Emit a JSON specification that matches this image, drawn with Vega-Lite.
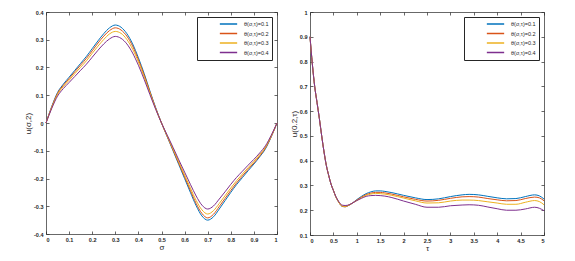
{
  "$schema": "https://vega.github.io/schema/vega-lite/v6.json",
  "background": "white",
  "padding": {"left": 24, "top": 10, "right": 5, "bottom": 2},
  "config": {
    "font": "Liberation Sans",
    "view": {"stroke": null},
    "concat": {"spacing": 11},
    "axis": {
      "grid": false,
      "domainColor": "#262626", "domainWidth": 0.7,
      "tickColor": "#262626", "tickWidth": 0.7, "tickSize": -3,
      "labelFontSize": 5.5, "labelFontWeight": "bold", "labelColor": "#262626", "labelPadding": 6,
      "labelExpr": "replace(datum.label, '\u2212', '-')",
      "titleFontSize": 8, "titleFontWeight": "normal", "titleColor": "#262626", "titlePadding": 1
    },
    "legend": {
      "title": null, "orient": "top-right", "offset": 5,
      "strokeColor": "#262626", "fillColor": "white", "padding": 3,
      "labelFontSize": 5.5, "labelColor": "#262626", "labelOffset": 6,
      "labelExpr": "datum.label + '\u2007\u2007\u2007\u2007'",
      "symbolType": "stroke", "symbolSize": 300, "symbolStrokeWidth": 1.5,
      "symbolOffset": 19, "rowPadding": 1.5, "clipHeight": 8
    }
  },
  "datasets": {
    "left": [
      {"s":"θ(σ,τ)=0.1","x":0,"y":0},{"s":"θ(σ,τ)=0.1","x":0.025,"y":0.06},{"s":"θ(σ,τ)=0.1","x":0.05,"y":0.11},{"s":"θ(σ,τ)=0.1","x":0.075,"y":0.14},{"s":"θ(σ,τ)=0.1","x":0.1,"y":0.165},{"s":"θ(σ,τ)=0.1","x":0.125,"y":0.19},{"s":"θ(σ,τ)=0.1","x":0.15,"y":0.215},{"s":"θ(σ,τ)=0.1","x":0.175,"y":0.24},{"s":"θ(σ,τ)=0.1","x":0.2,"y":0.268},{"s":"θ(σ,τ)=0.1","x":0.225,"y":0.296},{"s":"θ(σ,τ)=0.1","x":0.25,"y":0.322},{"s":"θ(σ,τ)=0.1","x":0.275,"y":0.343},{"s":"θ(σ,τ)=0.1","x":0.3,"y":0.353},{"s":"θ(σ,τ)=0.1","x":0.325,"y":0.345},{"s":"θ(σ,τ)=0.1","x":0.35,"y":0.322},{"s":"θ(σ,τ)=0.1","x":0.375,"y":0.285},{"s":"θ(σ,τ)=0.1","x":0.4,"y":0.235},{"s":"θ(σ,τ)=0.1","x":0.425,"y":0.178},{"s":"θ(σ,τ)=0.1","x":0.45,"y":0.115},{"s":"θ(σ,τ)=0.1","x":0.475,"y":0.055},{"s":"θ(σ,τ)=0.1","x":0.5,"y":0},{"s":"θ(σ,τ)=0.1","x":0.525,"y":-0.05},{"s":"θ(σ,τ)=0.1","x":0.55,"y":-0.1},{"s":"θ(σ,τ)=0.1","x":0.575,"y":-0.15},{"s":"θ(σ,τ)=0.1","x":0.6,"y":-0.2},{"s":"θ(σ,τ)=0.1","x":0.625,"y":-0.25},{"s":"θ(σ,τ)=0.1","x":0.65,"y":-0.298},{"s":"θ(σ,τ)=0.1","x":0.675,"y":-0.335},{"s":"θ(σ,τ)=0.1","x":0.7,"y":-0.35},{"s":"θ(σ,τ)=0.1","x":0.725,"y":-0.338},{"s":"θ(σ,τ)=0.1","x":0.75,"y":-0.31},{"s":"θ(σ,τ)=0.1","x":0.775,"y":-0.28},{"s":"θ(σ,τ)=0.1","x":0.8,"y":-0.25},{"s":"θ(σ,τ)=0.1","x":0.825,"y":-0.222},{"s":"θ(σ,τ)=0.1","x":0.85,"y":-0.197},{"s":"θ(σ,τ)=0.1","x":0.875,"y":-0.172},{"s":"θ(σ,τ)=0.1","x":0.9,"y":-0.148},{"s":"θ(σ,τ)=0.1","x":0.925,"y":-0.122},{"s":"θ(σ,τ)=0.1","x":0.95,"y":-0.093},{"s":"θ(σ,τ)=0.1","x":0.975,"y":-0.05},{"s":"θ(σ,τ)=0.1","x":1,"y":0},
      {"s":"θ(σ,τ)=0.2","x":0,"y":0},{"s":"θ(σ,τ)=0.2","x":0.025,"y":0.058},{"s":"θ(σ,τ)=0.2","x":0.05,"y":0.107},{"s":"θ(σ,τ)=0.2","x":0.075,"y":0.136},{"s":"θ(σ,τ)=0.2","x":0.1,"y":0.16},{"s":"θ(σ,τ)=0.2","x":0.125,"y":0.185},{"s":"θ(σ,τ)=0.2","x":0.15,"y":0.209},{"s":"θ(σ,τ)=0.2","x":0.175,"y":0.233},{"s":"θ(σ,τ)=0.2","x":0.2,"y":0.26},{"s":"θ(σ,τ)=0.2","x":0.225,"y":0.288},{"s":"θ(σ,τ)=0.2","x":0.25,"y":0.313},{"s":"θ(σ,τ)=0.2","x":0.275,"y":0.333},{"s":"θ(σ,τ)=0.2","x":0.3,"y":0.343},{"s":"θ(σ,τ)=0.2","x":0.325,"y":0.335},{"s":"θ(σ,τ)=0.2","x":0.35,"y":0.313},{"s":"θ(σ,τ)=0.2","x":0.375,"y":0.277},{"s":"θ(σ,τ)=0.2","x":0.4,"y":0.228},{"s":"θ(σ,τ)=0.2","x":0.425,"y":0.173},{"s":"θ(σ,τ)=0.2","x":0.45,"y":0.112},{"s":"θ(σ,τ)=0.2","x":0.475,"y":0.053},{"s":"θ(σ,τ)=0.2","x":0.5,"y":0},{"s":"θ(σ,τ)=0.2","x":0.525,"y":-0.049},{"s":"θ(σ,τ)=0.2","x":0.55,"y":-0.097},{"s":"θ(σ,τ)=0.2","x":0.575,"y":-0.146},{"s":"θ(σ,τ)=0.2","x":0.6,"y":-0.194},{"s":"θ(σ,τ)=0.2","x":0.625,"y":-0.243},{"s":"θ(σ,τ)=0.2","x":0.65,"y":-0.29},{"s":"θ(σ,τ)=0.2","x":0.675,"y":-0.326},{"s":"θ(σ,τ)=0.2","x":0.7,"y":-0.342},{"s":"θ(σ,τ)=0.2","x":0.725,"y":-0.329},{"s":"θ(σ,τ)=0.2","x":0.75,"y":-0.301},{"s":"θ(σ,τ)=0.2","x":0.775,"y":-0.272},{"s":"θ(σ,τ)=0.2","x":0.8,"y":-0.243},{"s":"θ(σ,τ)=0.2","x":0.825,"y":-0.216},{"s":"θ(σ,τ)=0.2","x":0.85,"y":-0.191},{"s":"θ(σ,τ)=0.2","x":0.875,"y":-0.167},{"s":"θ(σ,τ)=0.2","x":0.9,"y":-0.144},{"s":"θ(σ,τ)=0.2","x":0.925,"y":-0.119},{"s":"θ(σ,τ)=0.2","x":0.95,"y":-0.09},{"s":"θ(σ,τ)=0.2","x":0.975,"y":-0.049},{"s":"θ(σ,τ)=0.2","x":1,"y":0},
      {"s":"θ(σ,τ)=0.3","x":0,"y":0},{"s":"θ(σ,τ)=0.3","x":0.025,"y":0.056},{"s":"θ(σ,τ)=0.3","x":0.05,"y":0.103},{"s":"θ(σ,τ)=0.3","x":0.075,"y":0.131},{"s":"θ(σ,τ)=0.3","x":0.1,"y":0.154},{"s":"θ(σ,τ)=0.3","x":0.125,"y":0.178},{"s":"θ(σ,τ)=0.3","x":0.15,"y":0.201},{"s":"θ(σ,τ)=0.3","x":0.175,"y":0.224},{"s":"θ(σ,τ)=0.3","x":0.2,"y":0.251},{"s":"θ(σ,τ)=0.3","x":0.225,"y":0.277},{"s":"θ(σ,τ)=0.3","x":0.25,"y":0.301},{"s":"θ(σ,τ)=0.3","x":0.275,"y":0.321},{"s":"θ(σ,τ)=0.3","x":0.3,"y":0.33},{"s":"θ(σ,τ)=0.3","x":0.325,"y":0.323},{"s":"θ(σ,τ)=0.3","x":0.35,"y":0.301},{"s":"θ(σ,τ)=0.3","x":0.375,"y":0.266},{"s":"θ(σ,τ)=0.3","x":0.4,"y":0.22},{"s":"θ(σ,τ)=0.3","x":0.425,"y":0.166},{"s":"θ(σ,τ)=0.3","x":0.45,"y":0.108},{"s":"θ(σ,τ)=0.3","x":0.475,"y":0.051},{"s":"θ(σ,τ)=0.3","x":0.5,"y":0},{"s":"θ(σ,τ)=0.3","x":0.525,"y":-0.047},{"s":"θ(σ,τ)=0.3","x":0.55,"y":-0.094},{"s":"θ(σ,τ)=0.3","x":0.575,"y":-0.14},{"s":"θ(σ,τ)=0.3","x":0.6,"y":-0.187},{"s":"θ(σ,τ)=0.3","x":0.625,"y":-0.234},{"s":"θ(σ,τ)=0.3","x":0.65,"y":-0.279},{"s":"θ(σ,τ)=0.3","x":0.675,"y":-0.313},{"s":"θ(σ,τ)=0.3","x":0.7,"y":-0.328},{"s":"θ(σ,τ)=0.3","x":0.725,"y":-0.316},{"s":"θ(σ,τ)=0.3","x":0.75,"y":-0.29},{"s":"θ(σ,τ)=0.3","x":0.775,"y":-0.262},{"s":"θ(σ,τ)=0.3","x":0.8,"y":-0.234},{"s":"θ(σ,τ)=0.3","x":0.825,"y":-0.208},{"s":"θ(σ,τ)=0.3","x":0.85,"y":-0.184},{"s":"θ(σ,τ)=0.3","x":0.875,"y":-0.161},{"s":"θ(σ,τ)=0.3","x":0.9,"y":-0.138},{"s":"θ(σ,τ)=0.3","x":0.925,"y":-0.114},{"s":"θ(σ,τ)=0.3","x":0.95,"y":-0.087},{"s":"θ(σ,τ)=0.3","x":0.975,"y":-0.047},{"s":"θ(σ,τ)=0.3","x":1,"y":0},
      {"s":"θ(σ,τ)=0.4","x":0,"y":0},{"s":"θ(σ,τ)=0.4","x":0.025,"y":0.053},{"s":"θ(σ,τ)=0.4","x":0.05,"y":0.097},{"s":"θ(σ,τ)=0.4","x":0.075,"y":0.124},{"s":"θ(σ,τ)=0.4","x":0.1,"y":0.146},{"s":"θ(σ,τ)=0.4","x":0.125,"y":0.168},{"s":"θ(σ,τ)=0.4","x":0.15,"y":0.19},{"s":"θ(σ,τ)=0.4","x":0.175,"y":0.212},{"s":"θ(σ,τ)=0.4","x":0.2,"y":0.237},{"s":"θ(σ,τ)=0.4","x":0.225,"y":0.262},{"s":"θ(σ,τ)=0.4","x":0.25,"y":0.285},{"s":"θ(σ,τ)=0.4","x":0.275,"y":0.303},{"s":"θ(σ,τ)=0.4","x":0.3,"y":0.312},{"s":"θ(σ,τ)=0.4","x":0.325,"y":0.305},{"s":"θ(σ,τ)=0.4","x":0.35,"y":0.285},{"s":"θ(σ,τ)=0.4","x":0.375,"y":0.252},{"s":"θ(σ,τ)=0.4","x":0.4,"y":0.208},{"s":"θ(σ,τ)=0.4","x":0.425,"y":0.157},{"s":"θ(σ,τ)=0.4","x":0.45,"y":0.102},{"s":"θ(σ,τ)=0.4","x":0.475,"y":0.049},{"s":"θ(σ,τ)=0.4","x":0.5,"y":0},{"s":"θ(σ,τ)=0.4","x":0.525,"y":-0.044},{"s":"θ(σ,τ)=0.4","x":0.55,"y":-0.088},{"s":"θ(σ,τ)=0.4","x":0.575,"y":-0.133},{"s":"θ(σ,τ)=0.4","x":0.6,"y":-0.177},{"s":"θ(σ,τ)=0.4","x":0.625,"y":-0.221},{"s":"θ(σ,τ)=0.4","x":0.65,"y":-0.263},{"s":"θ(σ,τ)=0.4","x":0.675,"y":-0.296},{"s":"θ(σ,τ)=0.4","x":0.7,"y":-0.31},{"s":"θ(σ,τ)=0.4","x":0.725,"y":-0.299},{"s":"θ(σ,τ)=0.4","x":0.75,"y":-0.274},{"s":"θ(σ,τ)=0.4","x":0.775,"y":-0.248},{"s":"θ(σ,τ)=0.4","x":0.8,"y":-0.221},{"s":"θ(σ,τ)=0.4","x":0.825,"y":-0.196},{"s":"θ(σ,τ)=0.4","x":0.85,"y":-0.174},{"s":"θ(σ,τ)=0.4","x":0.875,"y":-0.152},{"s":"θ(σ,τ)=0.4","x":0.9,"y":-0.131},{"s":"θ(σ,τ)=0.4","x":0.925,"y":-0.108},{"s":"θ(σ,τ)=0.4","x":0.95,"y":-0.082},{"s":"θ(σ,τ)=0.4","x":0.975,"y":-0.044},{"s":"θ(σ,τ)=0.4","x":1,"y":0}
    ],
    "right": [
      {"s":"θ(σ,τ)=0.1","t":0,"u":0.9},{"s":"θ(σ,τ)=0.1","t":0.05,"u":0.79},{"s":"θ(σ,τ)=0.1","t":0.1,"u":0.7},{"s":"θ(σ,τ)=0.1","t":0.15,"u":0.635},{"s":"θ(σ,τ)=0.1","t":0.2,"u":0.57},{"s":"θ(σ,τ)=0.1","t":0.25,"u":0.5},{"s":"θ(σ,τ)=0.1","t":0.3,"u":0.435},{"s":"θ(σ,τ)=0.1","t":0.35,"u":0.38},{"s":"θ(σ,τ)=0.1","t":0.4,"u":0.34},{"s":"θ(σ,τ)=0.1","t":0.45,"u":0.305},{"s":"θ(σ,τ)=0.1","t":0.5,"u":0.28},{"s":"θ(σ,τ)=0.1","t":0.55,"u":0.255},{"s":"θ(σ,τ)=0.1","t":0.6,"u":0.237},{"s":"θ(σ,τ)=0.1","t":0.65,"u":0.222},{"s":"θ(σ,τ)=0.1","t":0.7,"u":0.215},{"s":"θ(σ,τ)=0.1","t":0.75,"u":0.214},{"s":"θ(σ,τ)=0.1","t":0.8,"u":0.217},{"s":"θ(σ,τ)=0.1","t":0.9,"u":0.228},{"s":"θ(σ,τ)=0.1","t":1,"u":0.243},{"s":"θ(σ,τ)=0.1","t":1.1,"u":0.256},{"s":"θ(σ,τ)=0.1","t":1.2,"u":0.267},{"s":"θ(σ,τ)=0.1","t":1.3,"u":0.274},{"s":"θ(σ,τ)=0.1","t":1.4,"u":0.278},{"s":"θ(σ,τ)=0.1","t":1.5,"u":0.278},{"s":"θ(σ,τ)=0.1","t":1.6,"u":0.276},{"s":"θ(σ,τ)=0.1","t":1.75,"u":0.271},{"s":"θ(σ,τ)=0.1","t":2,"u":0.26},{"s":"θ(σ,τ)=0.1","t":2.25,"u":0.25},{"s":"θ(σ,τ)=0.1","t":2.5,"u":0.243},{"s":"θ(σ,τ)=0.1","t":2.75,"u":0.246},{"s":"θ(σ,τ)=0.1","t":3,"u":0.255},{"s":"θ(σ,τ)=0.1","t":3.25,"u":0.262},{"s":"θ(σ,τ)=0.1","t":3.4,"u":0.264},{"s":"θ(σ,τ)=0.1","t":3.6,"u":0.262},{"s":"θ(σ,τ)=0.1","t":3.8,"u":0.256},{"s":"θ(σ,τ)=0.1","t":4,"u":0.25},{"s":"θ(σ,τ)=0.1","t":4.2,"u":0.246},{"s":"θ(σ,τ)=0.1","t":4.4,"u":0.247},{"s":"θ(σ,τ)=0.1","t":4.6,"u":0.255},{"s":"θ(σ,τ)=0.1","t":4.8,"u":0.262},{"s":"θ(σ,τ)=0.1","t":4.9,"u":0.258},{"s":"θ(σ,τ)=0.1","t":5,"u":0.245},
      {"s":"θ(σ,τ)=0.2","t":0,"u":0.9},{"s":"θ(σ,τ)=0.2","t":0.05,"u":0.79},{"s":"θ(σ,τ)=0.2","t":0.1,"u":0.7},{"s":"θ(σ,τ)=0.2","t":0.15,"u":0.635},{"s":"θ(σ,τ)=0.2","t":0.2,"u":0.57},{"s":"θ(σ,τ)=0.2","t":0.25,"u":0.5},{"s":"θ(σ,τ)=0.2","t":0.3,"u":0.435},{"s":"θ(σ,τ)=0.2","t":0.35,"u":0.38},{"s":"θ(σ,τ)=0.2","t":0.4,"u":0.34},{"s":"θ(σ,τ)=0.2","t":0.45,"u":0.305},{"s":"θ(σ,τ)=0.2","t":0.5,"u":0.28},{"s":"θ(σ,τ)=0.2","t":0.55,"u":0.255},{"s":"θ(σ,τ)=0.2","t":0.6,"u":0.237},{"s":"θ(σ,τ)=0.2","t":0.65,"u":0.222},{"s":"θ(σ,τ)=0.2","t":0.7,"u":0.215},{"s":"θ(σ,τ)=0.2","t":0.75,"u":0.214},{"s":"θ(σ,τ)=0.2","t":0.8,"u":0.217},{"s":"θ(σ,τ)=0.2","t":0.9,"u":0.228},{"s":"θ(σ,τ)=0.2","t":1,"u":0.241},{"s":"θ(σ,τ)=0.2","t":1.1,"u":0.253},{"s":"θ(σ,τ)=0.2","t":1.2,"u":0.263},{"s":"θ(σ,τ)=0.2","t":1.3,"u":0.269},{"s":"θ(σ,τ)=0.2","t":1.4,"u":0.272},{"s":"θ(σ,τ)=0.2","t":1.5,"u":0.272},{"s":"θ(σ,τ)=0.2","t":1.6,"u":0.27},{"s":"θ(σ,τ)=0.2","t":1.75,"u":0.265},{"s":"θ(σ,τ)=0.2","t":2,"u":0.254},{"s":"θ(σ,τ)=0.2","t":2.25,"u":0.244},{"s":"θ(σ,τ)=0.2","t":2.5,"u":0.237},{"s":"θ(σ,τ)=0.2","t":2.75,"u":0.24},{"s":"θ(σ,τ)=0.2","t":3,"u":0.248},{"s":"θ(σ,τ)=0.2","t":3.25,"u":0.254},{"s":"θ(σ,τ)=0.2","t":3.4,"u":0.255},{"s":"θ(σ,τ)=0.2","t":3.6,"u":0.253},{"s":"θ(σ,τ)=0.2","t":3.8,"u":0.247},{"s":"θ(σ,τ)=0.2","t":4,"u":0.242},{"s":"θ(σ,τ)=0.2","t":4.2,"u":0.238},{"s":"θ(σ,τ)=0.2","t":4.4,"u":0.239},{"s":"θ(σ,τ)=0.2","t":4.6,"u":0.247},{"s":"θ(σ,τ)=0.2","t":4.8,"u":0.253},{"s":"θ(σ,τ)=0.2","t":4.9,"u":0.25},{"s":"θ(σ,τ)=0.2","t":5,"u":0.238},
      {"s":"θ(σ,τ)=0.3","t":0,"u":0.9},{"s":"θ(σ,τ)=0.3","t":0.05,"u":0.79},{"s":"θ(σ,τ)=0.3","t":0.1,"u":0.7},{"s":"θ(σ,τ)=0.3","t":0.15,"u":0.635},{"s":"θ(σ,τ)=0.3","t":0.2,"u":0.57},{"s":"θ(σ,τ)=0.3","t":0.25,"u":0.5},{"s":"θ(σ,τ)=0.3","t":0.3,"u":0.435},{"s":"θ(σ,τ)=0.3","t":0.35,"u":0.38},{"s":"θ(σ,τ)=0.3","t":0.4,"u":0.34},{"s":"θ(σ,τ)=0.3","t":0.45,"u":0.305},{"s":"θ(σ,τ)=0.3","t":0.5,"u":0.28},{"s":"θ(σ,τ)=0.3","t":0.55,"u":0.255},{"s":"θ(σ,τ)=0.3","t":0.6,"u":0.237},{"s":"θ(σ,τ)=0.3","t":0.65,"u":0.222},{"s":"θ(σ,τ)=0.3","t":0.7,"u":0.216},{"s":"θ(σ,τ)=0.3","t":0.75,"u":0.215},{"s":"θ(σ,τ)=0.3","t":0.8,"u":0.218},{"s":"θ(σ,τ)=0.3","t":0.9,"u":0.228},{"s":"θ(σ,τ)=0.3","t":1,"u":0.239},{"s":"θ(σ,τ)=0.3","t":1.1,"u":0.25},{"s":"θ(σ,τ)=0.3","t":1.2,"u":0.26},{"s":"θ(σ,τ)=0.3","t":1.3,"u":0.265},{"s":"θ(σ,τ)=0.3","t":1.4,"u":0.268},{"s":"θ(σ,τ)=0.3","t":1.5,"u":0.267},{"s":"θ(σ,τ)=0.3","t":1.6,"u":0.265},{"s":"θ(σ,τ)=0.3","t":1.75,"u":0.26},{"s":"θ(σ,τ)=0.3","t":2,"u":0.249},{"s":"θ(σ,τ)=0.3","t":2.25,"u":0.238},{"s":"θ(σ,τ)=0.3","t":2.5,"u":0.229},{"s":"θ(σ,τ)=0.3","t":2.75,"u":0.23},{"s":"θ(σ,τ)=0.3","t":3,"u":0.237},{"s":"θ(σ,τ)=0.3","t":3.25,"u":0.241},{"s":"θ(σ,τ)=0.3","t":3.4,"u":0.241},{"s":"θ(σ,τ)=0.3","t":3.6,"u":0.239},{"s":"θ(σ,τ)=0.3","t":3.8,"u":0.234},{"s":"θ(σ,τ)=0.3","t":4,"u":0.229},{"s":"θ(σ,τ)=0.3","t":4.2,"u":0.224},{"s":"θ(σ,τ)=0.3","t":4.4,"u":0.224},{"s":"θ(σ,τ)=0.3","t":4.6,"u":0.232},{"s":"θ(σ,τ)=0.3","t":4.8,"u":0.239},{"s":"θ(σ,τ)=0.3","t":4.9,"u":0.235},{"s":"θ(σ,τ)=0.3","t":5,"u":0.222},
      {"s":"θ(σ,τ)=0.4","t":0,"u":0.9},{"s":"θ(σ,τ)=0.4","t":0.05,"u":0.79},{"s":"θ(σ,τ)=0.4","t":0.1,"u":0.7},{"s":"θ(σ,τ)=0.4","t":0.15,"u":0.635},{"s":"θ(σ,τ)=0.4","t":0.2,"u":0.57},{"s":"θ(σ,τ)=0.4","t":0.25,"u":0.5},{"s":"θ(σ,τ)=0.4","t":0.3,"u":0.435},{"s":"θ(σ,τ)=0.4","t":0.35,"u":0.38},{"s":"θ(σ,τ)=0.4","t":0.4,"u":0.34},{"s":"θ(σ,τ)=0.4","t":0.45,"u":0.305},{"s":"θ(σ,τ)=0.4","t":0.5,"u":0.28},{"s":"θ(σ,τ)=0.4","t":0.55,"u":0.256},{"s":"θ(σ,τ)=0.4","t":0.6,"u":0.239},{"s":"θ(σ,τ)=0.4","t":0.65,"u":0.226},{"s":"θ(σ,τ)=0.4","t":0.7,"u":0.22},{"s":"θ(σ,τ)=0.4","t":0.75,"u":0.219},{"s":"θ(σ,τ)=0.4","t":0.8,"u":0.22},{"s":"θ(σ,τ)=0.4","t":0.9,"u":0.228},{"s":"θ(σ,τ)=0.4","t":1,"u":0.239},{"s":"θ(σ,τ)=0.4","t":1.1,"u":0.248},{"s":"θ(σ,τ)=0.4","t":1.2,"u":0.256},{"s":"θ(σ,τ)=0.4","t":1.3,"u":0.259},{"s":"θ(σ,τ)=0.4","t":1.4,"u":0.26},{"s":"θ(σ,τ)=0.4","t":1.5,"u":0.259},{"s":"θ(σ,τ)=0.4","t":1.6,"u":0.257},{"s":"θ(σ,τ)=0.4","t":1.75,"u":0.251},{"s":"θ(σ,τ)=0.4","t":2,"u":0.237},{"s":"θ(σ,τ)=0.4","t":2.25,"u":0.224},{"s":"θ(σ,τ)=0.4","t":2.5,"u":0.212},{"s":"θ(σ,τ)=0.4","t":2.75,"u":0.212},{"s":"θ(σ,τ)=0.4","t":3,"u":0.218},{"s":"θ(σ,τ)=0.4","t":3.25,"u":0.221},{"s":"θ(σ,τ)=0.4","t":3.4,"u":0.222},{"s":"θ(σ,τ)=0.4","t":3.6,"u":0.22},{"s":"θ(σ,τ)=0.4","t":3.8,"u":0.213},{"s":"θ(σ,τ)=0.4","t":4,"u":0.206},{"s":"θ(σ,τ)=0.4","t":4.2,"u":0.2},{"s":"θ(σ,τ)=0.4","t":4.4,"u":0.2},{"s":"θ(σ,τ)=0.4","t":4.6,"u":0.205},{"s":"θ(σ,τ)=0.4","t":4.8,"u":0.212},{"s":"θ(σ,τ)=0.4","t":4.9,"u":0.208},{"s":"θ(σ,τ)=0.4","t":5,"u":0.198}
    ]
  },
  "resolve": {"scale": {"x": "independent", "y": "independent", "color": "independent"}, "axis": {"x": "independent", "y": "independent"}, "legend": {"color": "independent"}},
  "hconcat": [
    {
      "width": 231, "height": 222,
      "data": {"name": "left"},
      "layer": [
        {
          "mark": {"type": "line", "strokeWidth": 1, "interpolate": "monotone"},
          "encoding": {
            "x": {"field": "x", "type": "quantitative", "title": "σ", "scale": {"domain": [0, 1], "nice": false, "zero": false},
                  "axis": {"orient": "bottom", "values": [0, 0.1, 0.2, 0.3, 0.4, 0.5, 0.6, 0.7, 0.8, 0.9, 1], "format": "~g", "title": "σ"}},
            "y": {"field": "y", "type": "quantitative", "title": "u(σ,2)", "scale": {"domain": [-0.4, 0.4], "nice": false},
                  "axis": {"orient": "left", "values": [-0.4, -0.3, -0.2, -0.1, 0, 0.1, 0.2, 0.3, 0.4], "format": "~g", "title": "u(σ,2)"}},
            "color": {"field": "s", "type": "nominal",
                      "scale": {"domain": ["θ(σ,τ)=0.1", "θ(σ,τ)=0.2", "θ(σ,τ)=0.3", "θ(σ,τ)=0.4"], "range": ["#0072BD", "#D95319", "#EDB120", "#7E2F8E"]},
                      "legend": {"orient": "top-right"}}
          }
        },
        {
          "mark": {"type": "line", "opacity": 0},
          "encoding": {
            "x": {"field": "x", "type": "quantitative", "axis": {"orient": "top", "values": [0, 0.1, 0.2, 0.3, 0.4, 0.5, 0.6, 0.7, 0.8, 0.9, 1], "labels": false, "title": null}},
            "y": {"field": "y", "type": "quantitative", "axis": {"orient": "right", "values": [-0.4, -0.3, -0.2, -0.1, 0, 0.1, 0.2, 0.3, 0.4], "labels": false, "title": null}},
            "detail": {"field": "s"}
          }
        }
      ],
      "resolve": {"axis": {"x": "independent", "y": "independent"}}
    },
    {
      "width": 234, "height": 223,
      "data": {"name": "right"},
      "layer": [
        {
          "mark": {"type": "line", "strokeWidth": 1, "interpolate": "monotone"},
          "encoding": {
            "x": {"field": "t", "type": "quantitative", "title": "τ", "scale": {"domain": [0, 5], "nice": false},
                  "axis": {"orient": "bottom", "values": [0, 0.5, 1, 1.5, 2, 2.5, 3, 3.5, 4, 4.5, 5], "format": "~g", "title": "τ"}},
            "y": {"field": "u", "type": "quantitative", "title": "u(0.2,τ)", "scale": {"domain": [0.1, 1], "nice": false, "zero": false},
                  "axis": {"orient": "left", "values": [0.1, 0.2, 0.3, 0.4, 0.5, 0.6, 0.7, 0.8, 0.9, 1], "format": "~g", "title": "u(0.2,τ)"}},
            "color": {"field": "s", "type": "nominal",
                      "scale": {"domain": ["θ(σ,τ)=0.1", "θ(σ,τ)=0.2", "θ(σ,τ)=0.3", "θ(σ,τ)=0.4"], "range": ["#0072BD", "#D95319", "#EDB120", "#7E2F8E"]},
                      "legend": {"orient": "top-right"}}
          }
        },
        {
          "mark": {"type": "line", "opacity": 0},
          "encoding": {
            "x": {"field": "t", "type": "quantitative", "axis": {"orient": "top", "values": [0, 0.5, 1, 1.5, 2, 2.5, 3, 3.5, 4, 4.5, 5], "labels": false, "title": null}},
            "y": {"field": "u", "type": "quantitative", "axis": {"orient": "right", "values": [0.1, 0.2, 0.3, 0.4, 0.5, 0.6, 0.7, 0.8, 0.9, 1], "labels": false, "title": null}},
            "detail": {"field": "s"}
          }
        }
      ],
      "resolve": {"axis": {"x": "independent", "y": "independent"}}
    }
  ]
}
